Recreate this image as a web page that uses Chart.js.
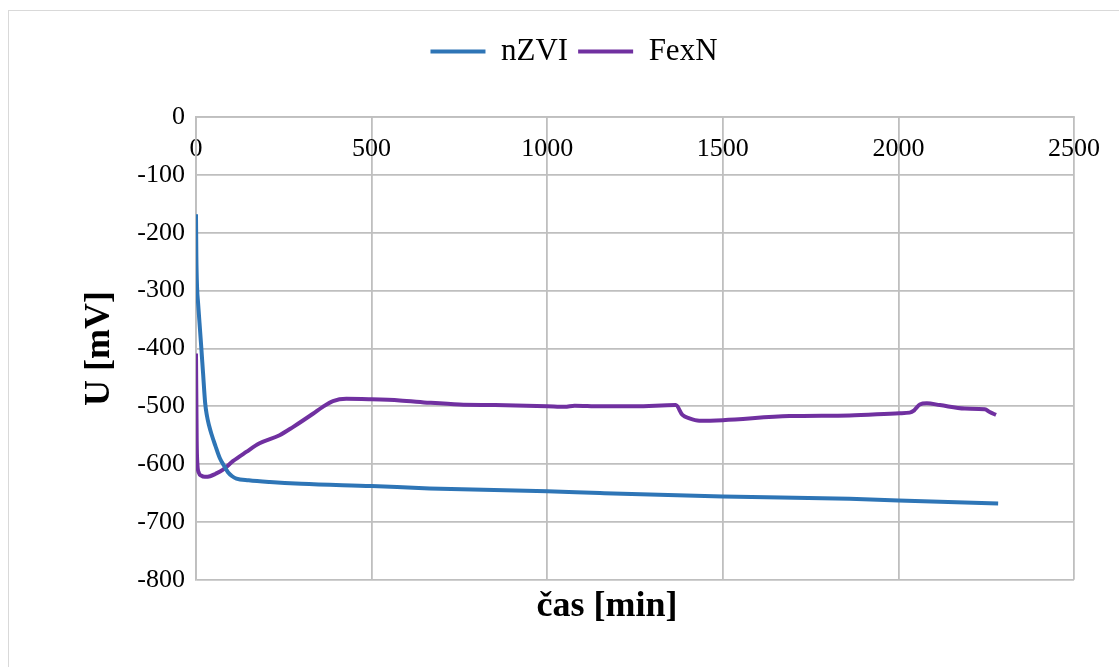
<!DOCTYPE html>
<html>
<head>
<meta charset="utf-8">
<script src="https://cdn.jsdelivr.net/npm/chart.js@4.4.1/dist/chart.umd.min.js"></script>
<style>
    body { margin: 0; background: #ffffff; }
    #frame { position: absolute; left: 8px; top: 10px; width: 1130px; height: 700px; border: 1px solid #d9d9d9; }
    #wrap { position: absolute; left: 0; top: 0; width: 1119px; height: 667px; }
</style>
</head>
<body>
<div id="frame"></div>
<div id="wrap"><canvas id="potChart"></canvas></div>
<script>
// time [min] and potential [mV]
const nzviTime = [0, 1, 3, 6, 10, 15, 20, 26, 31, 37, 44, 55, 68, 80, 91, 103, 115, 150, 210, 300, 500, 665, 1000, 1150, 1500, 1861, 2000, 2284];
const nzviMv   = [-168, -240, -294, -322, -356, -398, -442, -494, -516, -533, -548, -568, -590, -603, -614, -621, -625, -628, -631, -634, -638, -642, -647, -650, -656, -660, -663, -668];

const fexnTime = [0, 2, 4, 8, 15, 25, 40, 55, 76, 105, 143, 181, 238, 276, 333, 361, 390, 428, 500, 580, 665, 750, 850, 1000, 1050, 1078, 1150, 1250, 1366, 1385, 1405, 1433, 1500, 1690, 1861, 2003, 2032, 2045, 2061, 2081, 2118, 2189, 2246, 2260, 2278];
const fexnMv   = [-409, -560, -600, -615, -620, -622, -621, -617, -610, -595, -579, -564, -550, -536, -513, -501, -491, -487, -488, -490, -494, -497, -498, -500, -501, -499, -500, -500, -498, -515, -521, -525, -524, -517, -516, -512, -511, -507, -497, -495, -498, -504, -505, -510, -515];

const xTicks = [0, 500, 1000, 1500, 2000, 2500];
const yMin = -800, yMax = 0, yStep = 100;

const serif = '"Liberation Serif", "Times New Roman", serif';
const gridColor = '#bfbfbf';

function toPoints(xs, ys) {
    return xs.map((x, i) => ({ x: x, y: ys[i] }));
}

// Excel-like layout: gap under the legend, x title centred on plot + tick labels
const excelLayout = {
    id: 'excelLayout',
    beforeLayout(chart) {
        const lg = chart.legend;
        if (lg && !lg._gapPatched) {
            const fit = lg.fit;
            lg.fit = function () {
                fit.call(this);
                this.height += 40;
            };
            lg._gapPatched = true;
        }
    },
    afterLayout(chart) {
        const t = chart.titleBlock;
        if (t) {
            t.left = chart.chartArea.left - 56;
            t.right = chart.chartArea.right;
            t.width = t.right - t.left;
        }
    }
};

const ctx = document.getElementById('potChart').getContext('2d');

new Chart(ctx, {
    type: 'line',
    data: {
        datasets: [
            {
                label: 'nZVI',
                data: toPoints(nzviTime, nzviMv),
                borderColor: '#2e75b6',
                backgroundColor: '#2e75b6',
                borderWidth: 4,
                pointRadius: 0,
                cubicInterpolationMode: 'monotone'
            },
            {
                label: 'FexN',
                data: toPoints(fexnTime, fexnMv),
                borderColor: '#7030a0',
                backgroundColor: '#7030a0',
                borderWidth: 4,
                pointRadius: 0,
                cubicInterpolationMode: 'monotone'
            }
        ]
    },
    options: {
        responsive: true,
        maintainAspectRatio: false,
        animation: false,
        layout: {
            padding: { left: 74, right: 45, top: 26, bottom: 0 }
        },
        scales: {
            x: {
                type: 'linear',
                position: { y: 0 },
                min: 0,
                max: 2500,
                afterBuildTicks: (scale) => {
                    scale.ticks = xTicks.map(v => ({ value: v }));
                },
                ticks: {
                    color: '#000000',
                    font: { family: serif, size: 26 },
                    padding: 17,
                    maxRotation: 0,
                    autoSkip: false,
                    callback: (value) => String(value)
                },
                grid: { color: gridColor, lineWidth: 1.8, drawTicks: false },
                border: { color: gridColor, width: 1.8 }
            },
            y: {
                min: yMin,
                max: yMax,
                ticks: {
                    stepSize: yStep,
                    color: '#000000',
                    font: { family: serif, size: 26 },
                    padding: 11,
                    callback: (value) => String(value)
                },
                grid: { color: gridColor, lineWidth: 1.8, drawTicks: false },
                border: { color: gridColor, width: 1.8 },
                title: {
                    display: true,
                    text: 'U [mV]',
                    color: '#000000',
                    font: { family: serif, size: 36, weight: 'bold' },
                    padding: { top: 4, bottom: 0 }
                },
                afterFit: (scale) => {
                    scale.width = 196 - 74;
                }
            }
        },
        plugins: {
            legend: {
                position: 'top',
                labels: {
                    color: '#000000',
                    font: { family: serif, size: 31 },
                    usePointStyle: true,
                    pointStyle: 'line',
                    pointStyleWidth: 55,
                    padding: 10
                }
            },
            title: {
                display: true,
                position: 'bottom',
                fullSize: false,
                text: 'čas [min]',
                color: '#000000',
                font: { family: serif, size: 36, weight: 'bold' },
                padding: { top: 5, bottom: 39 }
            },
            tooltip: { enabled: false }
        }
    },
    plugins: [excelLayout]
});
</script>
</body>
</html>
